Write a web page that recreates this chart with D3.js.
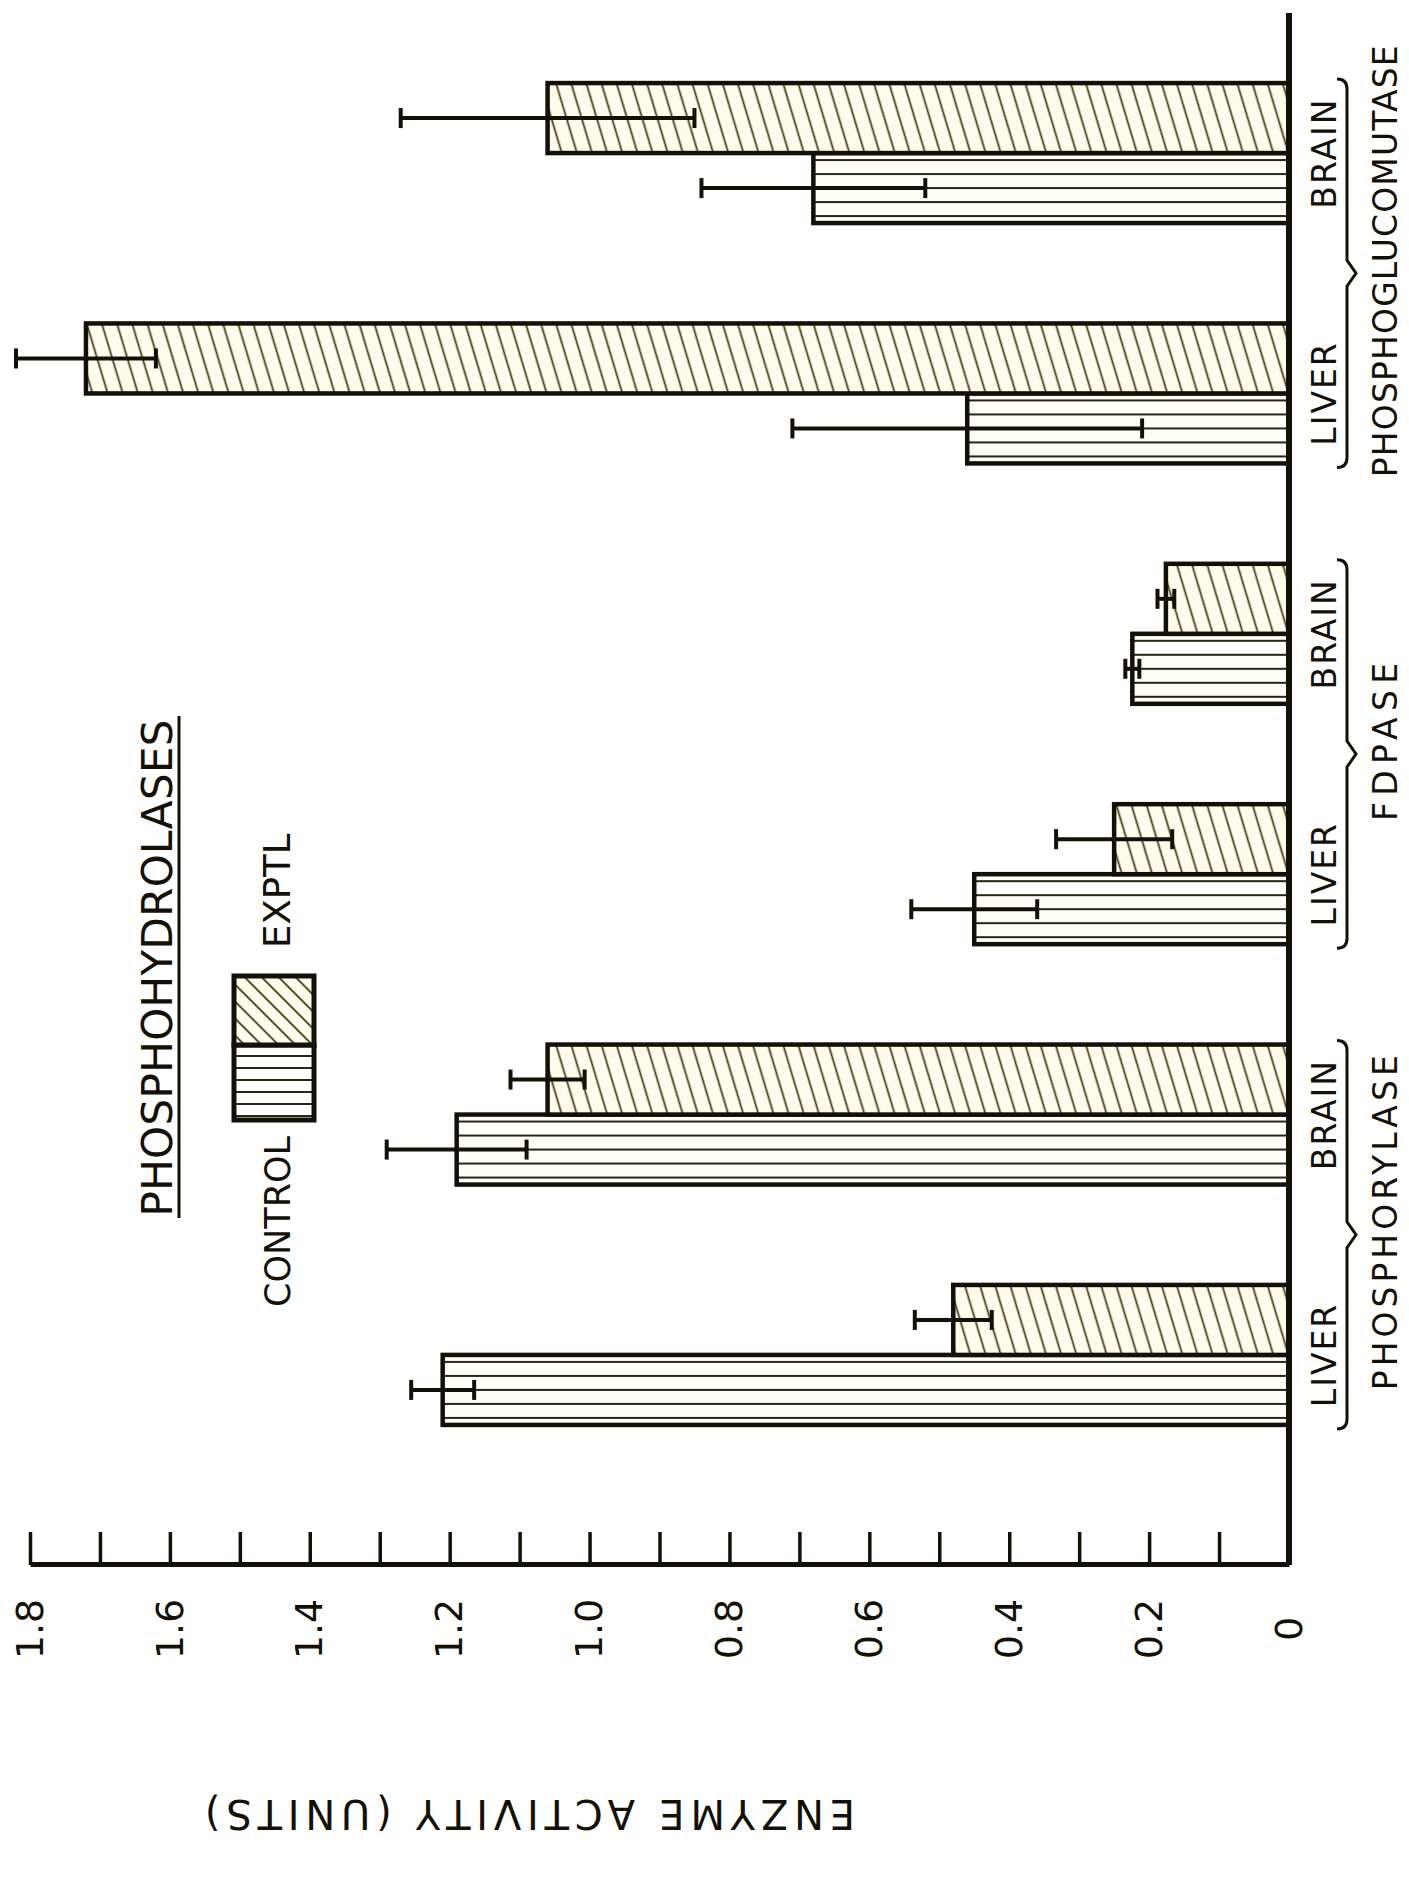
<!DOCTYPE html>
<html>
<head>
<meta charset="utf-8">
<script src="https://cdn.jsdelivr.net/npm/d3@7"></script>
<style>
  html, body { margin: 0; padding: 0; background: #fff; }
  svg { display: block; }
  text { font-family: "DejaVu Sans", sans-serif; fill: #141008; }
</style>
</head>
<body>
<div id="chart"></div>
<script>
// values (units of enzyme activity)
const groupNames = ['PHOSPHORYLASE', 'FDPASE', 'PHOSPHOGLUCOMUTASE']
const tissueNames = ['LIVER', 'BRAIN']
const seriesNames = ['CONTROL', 'EXPTL']
// one entry per group x tissue, in the order above
const controlMean = [1.21, 1.19, 0.45, 0.224, 0.46, 0.68]
const controlErr = [0.045, 0.10, 0.09, 0.01, 0.25, 0.16]
const exptlMean = [0.48, 1.06, 0.25, 0.176, 1.72, 1.06]
const exptlErr = [0.055, 0.053, 0.083, 0.012, 0.10, 0.21]
const tickValues = [0, 0.1, 0.2, 0.3, 0.4, 0.5, 0.6, 0.7, 0.8, 0.9, 1.0, 1.1, 1.2, 1.3, 1.4, 1.5, 1.6, 1.7, 1.8]
const tickLabels = ['0', '', '0.2', '', '0.4', '', '0.6', '', '0.8', '', '1.0', '', '1.2', '', '1.4', '', '1.6', '', '1.8']
const axisTitle = 'ENZYME ACTIVITY (UNITS)'
const legendTitle = 'PHOSPHOHYDROLASES'

const W = 1409
const H = 1878
const INK = '#141008'

const svg = d3.select('#chart').append('svg')
  .attr('width', W)
  .attr('height', H)

svg.append('rect').attr('width', W).attr('height', H).attr('fill', '#fff')

// patterns
const defs = svg.append('defs')
function linePattern (id, size, angle, stroke, width, bg) {
  const p = defs.append('pattern')
    .attr('id', id)
    .attr('patternUnits', 'userSpaceOnUse')
    .attr('width', size)
    .attr('height', size)
    .attr('patternTransform', `rotate(${angle})`)
  p.append('rect').attr('width', size).attr('height', size).attr('fill', bg)
  p.append('line')
    .attr('x1', 0).attr('x2', size)
    .attr('y1', size / 2).attr('y2', size / 2)
    .attr('stroke', stroke)
    .attr('stroke-width', width)
}
linePattern('ctrl', 14, 90, '#2a2316', 2, '#fffef9')
linePattern('hatch', 14.5, -16.7, '#4a3a14', 1.8, '#fffcee')
linePattern('ctrlLegend', 12, 90, '#2a2316', 2, '#fff')
linePattern('hatchLegend', 12, -45, '#4a3a14', 1.8, '#fffcee')

// the figure is drawn upright, then turned a quarter turn counter-clockwise
const g = svg.append('g').attr('transform', `translate(0,${H}) rotate(-90)`)

const keys = groupNames.flatMap(gr => tissueNames.map(t => gr + '|' + t))
const rows = keys.map((k, i) => ({
  key: k,
  group: k.split('|')[0],
  tissue: k.split('|')[1],
  values: [
    { s: 'CONTROL', m: controlMean[i], e: controlErr[i] },
    { s: 'EXPTL', m: exptlMean[i], e: exptlErr[i] }
  ]
}))

const x0 = d3.scaleBand().domain(keys).range([405, 1843]).paddingInner(0.4176).paddingOuter(0.2)
const x1 = d3.scaleBand().domain(seriesNames).range([0, x0.bandwidth()])
const y = d3.scaleLinear().domain([0, 1.8]).range([1289, 30])
const fillFor = { CONTROL: 'url(#ctrl)', EXPTL: 'url(#hatch)' }

// bars
const cat = g.selectAll('.cat').data(rows).join('g')
  .attr('class', 'cat')
  .attr('transform', d => `translate(${x0(d.key)},0)`)

cat.selectAll('rect.bar').data(d => d.values).join('rect')
  .attr('class', 'bar')
  .attr('x', d => x1(d.s))
  .attr('width', x1.bandwidth())
  .attr('y', d => y(d.m))
  .attr('height', d => y(0) - y(d.m))
  .attr('fill', d => fillFor[d.s])
  .attr('stroke', INK)
  .attr('stroke-width', 4.5)

// error bars
const cap = 10
const err = cat.selectAll('g.err').data(d => d.values).join('g')
  .attr('class', 'err')
  .attr('transform', d => `translate(${x1(d.s) + x1.bandwidth() / 2},0)`)
err.append('line')
  .attr('y1', d => y(d.m - d.e)).attr('y2', d => y(d.m + d.e))
  .attr('stroke', INK).attr('stroke-width', 4)
err.selectAll('line.cap').data(d => [d.m - d.e, d.m + d.e]).join('line')
  .attr('class', 'cap')
  .attr('x1', -cap).attr('x2', cap)
  .attr('y1', d => y(d)).attr('y2', d => y(d))
  .attr('stroke', INK).attr('stroke-width', 4)

// value axis
const axisU = 313
const axis = g.append('g')
  .attr('transform', `translate(${axisU},0)`)
  .call(d3.axisLeft(y)
    .tickValues(tickValues)
    .tickFormat((d, i) => tickLabels[i])
    .tickSizeInner(-33)
    .tickSizeOuter(0))
axis.select('.domain').attr('stroke', INK).attr('stroke-width', 5)
axis.selectAll('.tick line').attr('stroke', INK).attr('stroke-width', 3.5)
axis.selectAll('.tick text')
  .attr('x', -64)
  .attr('text-anchor', 'middle')
  .attr('font-size', 38)
  .attr('fill', INK)
  .style('font-family', '"DejaVu Sans", sans-serif')

// category baseline
g.append('line')
  .attr('x1', axisU).attr('x2', 1865)
  .attr('y1', y(0)).attr('y2', y(0))
  .attr('stroke', INK).attr('stroke-width', 6)

// axis title
g.append('text')
  .attr('transform', `translate(78,530) rotate(-90)`)
  .attr('text-anchor', 'middle')
  .attr('font-size', 40)
  .attr('textLength', 650)
  .attr('lengthAdjust', 'spacing')
  .text(axisTitle)

// tissue labels
g.selectAll('.tissue').data(rows).join('text')
  .attr('class', 'tissue')
  .attr('x', d => x0(d.key) + x0.bandwidth() / 2)
  .attr('y', 1324)
  .attr('dy', '0.36em')
  .attr('text-anchor', 'middle')
  .attr('font-size', 33)
  .attr('letter-spacing', 2)
  .text(d => d.tissue)

// braces and group names
const braceV = 1347
const groupLen = { PHOSPHORYLASE: 335, FDPASE: 158, PHOSPHOGLUCOMUTASE: 432 }
groupNames.forEach(gr => {
  const a = x0(gr + '|' + tissueNames[0]) - 4
  const b = x0(gr + '|' + tissueNames[1]) + x0.bandwidth() + 4
  const mid = (a + b) / 2
  const p = d3.path()
  p.moveTo(a, braceV - 10)
  p.quadraticCurveTo(a, braceV, a + 10, braceV)
  p.lineTo(mid - 13, braceV)
  p.lineTo(mid, braceV + 9)
  p.lineTo(mid + 13, braceV)
  p.lineTo(b - 10, braceV)
  p.quadraticCurveTo(b, braceV, b, braceV - 10)
  g.append('path')
    .attr('d', p.toString())
    .attr('fill', 'none')
    .attr('stroke', INK)
    .attr('stroke-width', 3)
  g.append('text')
    .attr('x', mid + 12)
    .attr('y', 1385)
    .attr('dy', '0.36em')
    .attr('text-anchor', 'middle')
    .attr('font-size', 33)
    .attr('textLength', groupLen[gr])
    .attr('lengthAdjust', 'spacing')
    .text(gr)
})

// legend
const legend = g.append('g')
const boxU = [758, 833, 902]
const boxV = [234, 314]
legend.selectAll('rect').data(seriesNames).join('rect')
  .attr('x', (d, i) => boxU[i])
  .attr('width', (d, i) => boxU[i + 1] - boxU[i])
  .attr('y', boxV[0])
  .attr('height', boxV[1] - boxV[0])
  .attr('fill', d => d === 'CONTROL' ? 'url(#ctrlLegend)' : 'url(#hatchLegend)')
  .attr('stroke', INK)
  .attr('stroke-width', 5)
legend.append('text')
  .attr('x', boxU[0] - 16).attr('y', 290)
  .attr('text-anchor', 'end')
  .attr('font-size', 35)
  .text(seriesNames[0])
legend.append('text')
  .attr('x', boxU[2] + 28).attr('y', 290)
  .attr('text-anchor', 'start')
  .attr('font-size', 37)
  .text(seriesNames[1])
legend.append('text')
  .attr('x', 910).attr('y', 172)
  .attr('text-anchor', 'middle')
  .attr('font-size', 42)
  .attr('textLength', 497)
  .attr('lengthAdjust', 'spacing')
  .text(legendTitle)
legend.append('line')
  .attr('x1', 660).attr('x2', 1162)
  .attr('y1', 179).attr('y2', 179)
  .attr('stroke', INK).attr('stroke-width', 3)
</script>
</body>
</html>
